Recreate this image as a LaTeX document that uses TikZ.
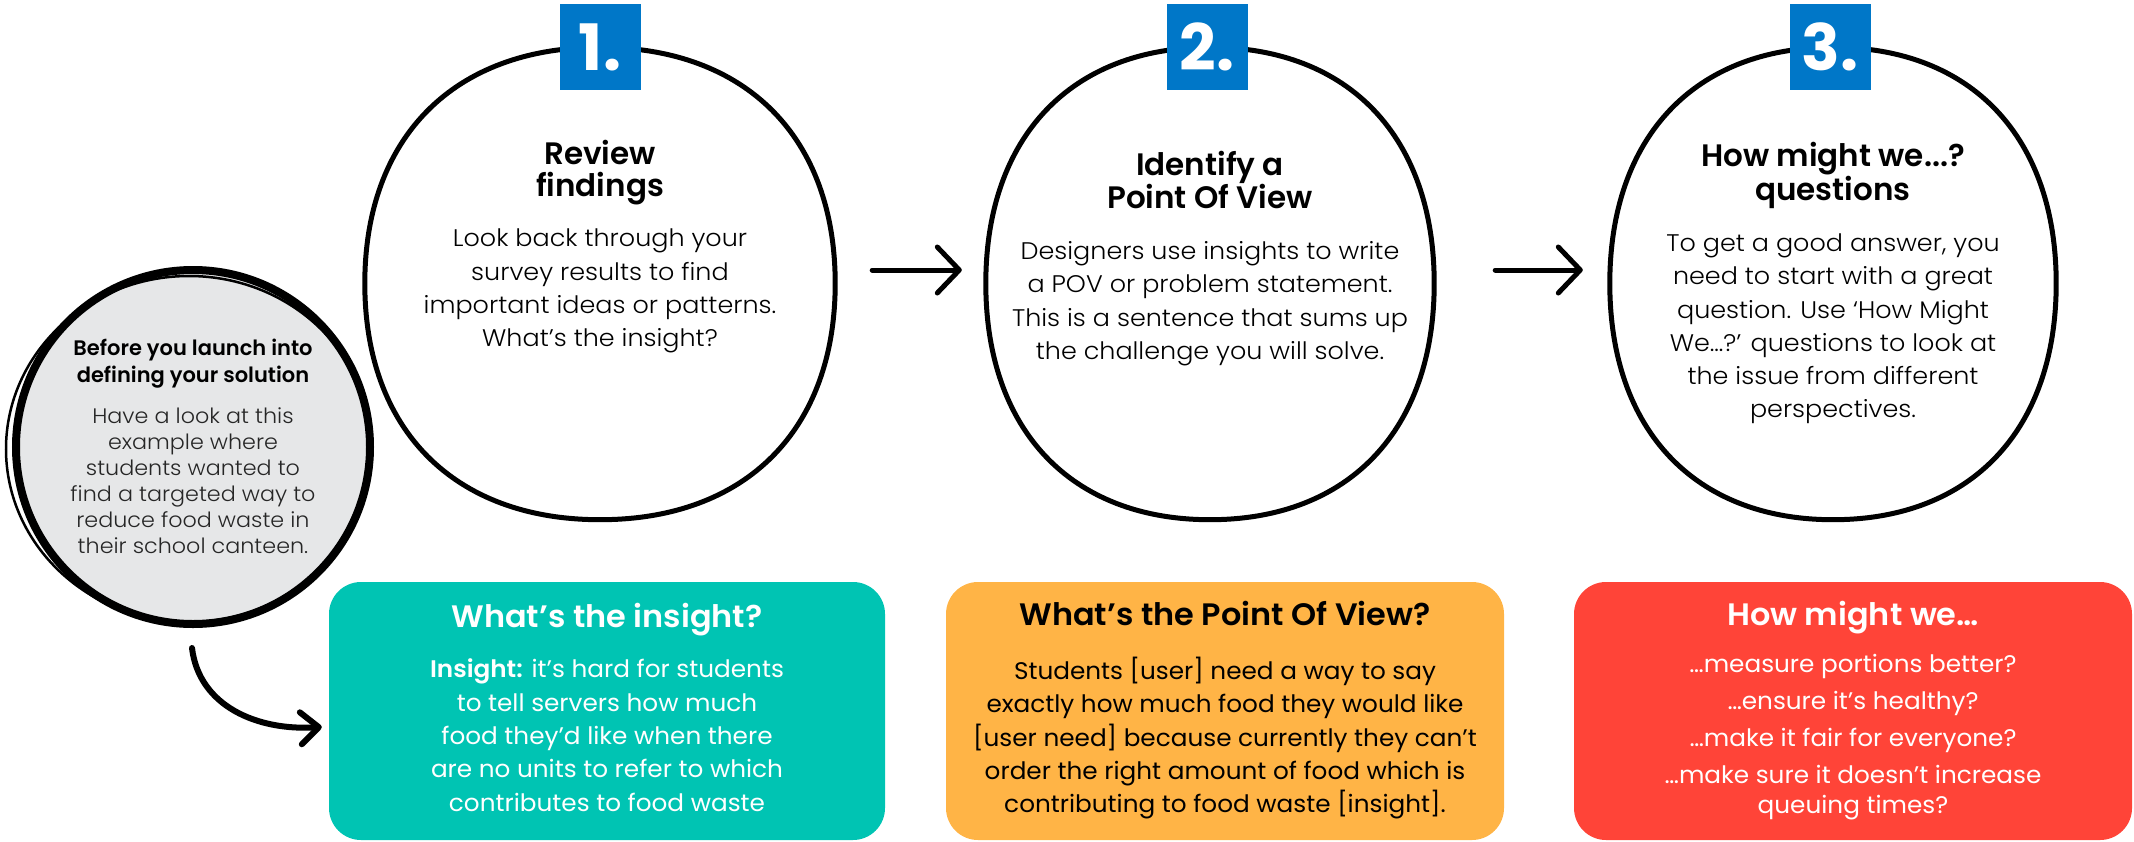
\documentclass[tikz,border=0pt]{standalone}
\usepackage{fontspec}
\setmainfont{Poppins}[UprightFont=* Light, BoldFont=* SemiBold]
\newfontfamily\widefont{Poppins}[UprightFont=* Light, FakeStretch=1.06]
\newfontfamily\regfont{Poppins}[BoldFont=* SemiBold, FakeStretch=1.03]
\newfontfamily\heavyfont{Poppins}[UprightFont=* Bold]
\usetikzlibrary{positioning, arrows.meta, calc}

\definecolor{stepblue}{HTML}{0077C8}
\definecolor{insightteal}{HTML}{00C4B3}
\definecolor{povorange}{HTML}{FFB446}
\definecolor{hmwred}{HTML}{FF4438}
\definecolor{notegrey}{HTML}{E6E7E8}

\newcommand{\steptitlefont}{\bfseries\fontsize{31}{32}\selectfont}
\newcommand{\stepbodyfont}{\widefont\fontsize{24}{33.3}\selectfont}
\newcommand{\notetitlefont}{\bfseries\fontsize{21}{27}\selectfont}
\newcommand{\notebodyfont}{\widefont\fontsize{21}{26}\selectfont}
\newcommand{\cardtitlefont}{\regfont\bfseries\fontsize{31}{32}\selectfont}
\newcommand{\cardbodyfont}{\regfont\fontsize{24}{33.3}\selectfont}

% hand drawn squircle round a step frame
\newcommand{\blobline}[1]{%
  \draw[line width=5pt, line join=round] (#1.north)
    .. controls ($(#1.north)!0.62!(#1.north east)$) and ($(#1.east)!0.62!(#1.north east)$) .. (#1.east)
    .. controls ($(#1.east)!0.62!(#1.south east)$) and ($(#1.south)!0.62!(#1.south east)$) .. (#1.south)
    .. controls ($(#1.south)!0.62!(#1.south west)$) and ($(#1.west)!0.62!(#1.south west)$) .. (#1.west)
    .. controls ($(#1.west)!0.62!(#1.north west)$) and ($(#1.north)!0.62!(#1.north west)$) .. (#1.north) -- cycle;}

\tikzset{
  stepframe/.style={rectangle, inner sep=0pt, minimum width=#1, minimum height=472pt},
  numbox/.style={fill=stepblue, text=white, inner sep=0pt, minimum width=81pt,
    minimum height=86pt, font=\heavyfont\fontsize{64}{64}\selectfont},
  steptitle/.style={align=center, inner sep=0pt, font=\steptitlefont},
  stepbody/.style={align=center, inner sep=0pt, font=\stepbodyfont},
  card/.style={rounded corners=32pt, inner sep=0pt, minimum height=258pt},
  flow/.style={line width=5pt, line cap=round, -{Straight Barb[length=22pt, width=46pt, round]}},
  curl/.style={line width=6pt, line cap=round, -{Straight Barb[length=18pt, width=32pt, round]}}
}

\begin{document}
\begin{tikzpicture}[x=1pt, y=-1pt, node distance=8pt]
  \useasboundingbox (0,0) rectangle (2134,841);

  % Step circles
  \node[stepframe=470pt] (b1) at (600,283.5) {};
  \node[stepframe=448pt] (b2) at (1210,283.5) {};
  \node[stepframe=446pt] (b3) at (1833,283.5) {};
  \blobline{b1}
  \blobline{b2}
  \blobline{b3}

  % Numbers
  \node[numbox] (n1) at ([shift={(0,0)}]b1.north) {1.};
  \node[numbox] (n2) at ([shift={(-3,0)}]b2.north) {2.};
  \node[numbox] (n3) at ([shift={(-3,0)}]b3.north) {3.};

  % Step texts
  \node[steptitle, below=92.5pt of b1.north] (t1) {Review\\findings};
  \node[stepbody, below=24pt of t1] (d1) {Look back through your\\survey results to find\\important ideas or patterns.\\What’s the insight?};
  \node[steptitle, below=103.5pt of b2.north] (t2) {Identify a\\Point Of View};
  \node[stepbody, below=32pt of t2] (d2) {Designers use insights to write\\a POV or problem statement.\\This is a sentence that sums up\\the challenge you will solve.};
  \node[steptitle, below=94.5pt of b3.north] (t3) {How might we...?\\questions};
  \node[stepbody, below=25pt of t3] (d3) {To get a good answer, you\\need to start with a great\\question. Use ‘How Might\\We…?’ questions to look at\\the issue from different\\perspectives.};

  % Intro note
  \node[circle, draw, fill=notegrey, line width=8pt, minimum size=354pt] (g) at (193,447) {};
  \draw[line width=2.5pt] ([shift={(-4,2)}]g.center) circle[x radius=183pt, y radius=173pt];
  \node[steptitle, font=\notetitlefont, below=73pt of g.north] (gt) {Before you launch into\\defining your solution};
  \node[stepbody, font=\notebodyfont, text=black!85, below=19pt of gt] (gd) {Have a look at this\\example where\\students wanted to\\find a targeted way to\\reduce food waste in\\their school canteen.};

  % Example cards
  \node[card, fill=insightteal, minimum width=556pt] (insight) at (607,711) {};
  \node[card, fill=povorange, minimum width=558pt] (pov) at (1225,711) {};
  \node[card, fill=hmwred, minimum width=558pt] (hmw) at (1853,711) {};

  \node[steptitle, font=\cardtitlefont, text=white, below=21pt of insight.north] (it) {What’s the insight?};
  \node[stepbody, font=\cardbodyfont, text=white, below=23pt of it] (id) {\textbf{Insight:} it’s hard for students\\to tell servers how much\\food they’d like when there\\are no units to refer to which\\contributes to food waste};
  \node[steptitle, font=\cardtitlefont, below=19pt of pov.north] (pt) {What’s the Point Of View?};
  \node[stepbody, font=\cardbodyfont, below=31pt of pt] (pd) {Students [user] need a way to say\\exactly how much food they would like\\{}[user need] because currently they can’t\\order the right amount of food which is\\contributing to food waste [insight].};
  \node[steptitle, font=\cardtitlefont, text=white, below=19pt of hmw.north] (ht) {How might we…};
  \node[stepbody, font=\regfont\fontsize{24}{30}\selectfont, text=white, below=20pt of ht] (hd) {…measure portions better?\\[7pt]…ensure it’s healthy?\\[7pt]…make it fair for everyone?\\[7pt]…make sure it doesn’t increase\\queuing times?};

  % Edges
  \draw[flow] ([shift={(37,-13.5)}]b1.east) -- ([shift={(-24,-13.5)}]b2.west);
  \draw[flow] ([shift={(61,-13.5)}]b2.east) -- ([shift={(-27,-13.5)}]b3.west);
  \draw[curl] ([shift={(-1,20)}]g.south) .. controls ($(g.south)+(6,78)$) and ($(insight.west)+(-72,20)$) .. ([shift={(-7,16)}]insight.west);
\end{tikzpicture}
\end{document}
